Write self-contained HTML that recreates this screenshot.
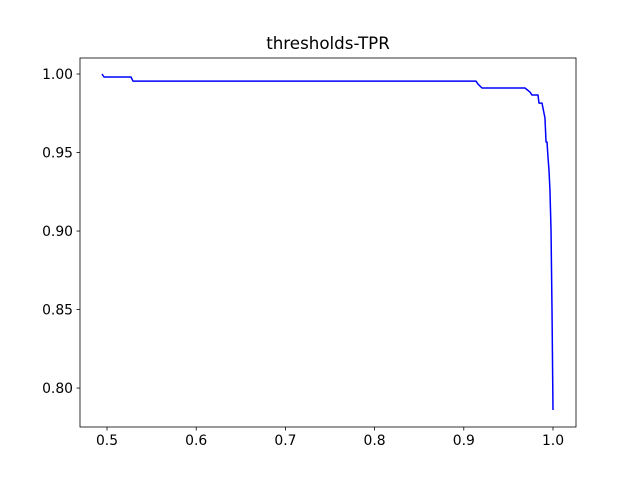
<!DOCTYPE html>
<html><head><meta charset="utf-8"><style>
body{margin:0;background:#fff}
svg text{font-family:"DejaVu Sans","Liberation Sans",sans-serif;fill:#000}
</style></head><body>
<svg id="chart" width="640" height="480" xmlns="http://www.w3.org/2000/svg">
<rect width="640" height="480" fill="#fff"/>
<text x="328" y="49" font-size="16.7" text-anchor="middle">thresholds-TPR</text>
<g id="axes"></g>
</svg>
<script>
const xs=[0.4944,0.4966,0.5269,0.5291,0.9137,0.9159,0.9204,0.9249,0.9686,0.9742,0.9765,0.9832,0.9843,0.9877,0.9888,0.9910,0.9922,0.9933,0.9944,0.9955,0.9966,0.9978,0.9989,1.0];
const ys=[1.0,0.9981,0.9981,0.9955,0.9955,0.9936,0.9911,0.9911,0.9911,0.9885,0.9866,0.9866,0.9815,0.9815,0.9783,0.9720,0.9567,0.9567,0.9471,0.9389,0.9261,0.9006,0.8497,0.786];
const xTicks=[0.5,0.6,0.7,0.8,0.9,1.0];
const yTicks=[0.80,0.85,0.90,0.95,1.00];
const L=80,R=576,T=58,B=427;
const x0=0.4697,x1=1.0258,y0=0.7752,y1=1.0102;
const X=v=>L+(v-x0)/(x1-x0)*(R-L);
const Y=v=>B-(v-y0)/(y1-y0)*(B-T);
const NS="http://www.w3.org/2000/svg";
const g=document.getElementById('axes');
function mk(t,a){const e=document.createElementNS(NS,t);for(const k in a)e.setAttribute(k,a[k]);g.appendChild(e);return e;}
const line=mk('polyline',{points:xs.map((v,i)=>X(v)+','+Y(ys[i])).join(' '),fill:'none',stroke:'#0000ff','stroke-width':1.5,'stroke-linejoin':'round'});


xTicks.forEach(v=>{const px=X(v);
const tk=mk('line',{x1:px,x2:px,y1:B,y2:B+3.5,stroke:'#000','stroke-width':0.8});


const t=mk('text',{x:px,y:B+18,'font-size':13.9,'text-anchor':'middle'});t.textContent=v.toFixed(1);

});
yTicks.forEach(v=>{const py=Y(v);
const tk=mk('line',{x1:L-3.5,x2:L,y1:py,y2:py,stroke:'#000','stroke-width':0.8});


const t=mk('text',{x:L-7,y:py+5,'font-size':13.9,'text-anchor':'end'});t.textContent=v.toFixed(2);

});
const fr=mk('rect',{x:L,y:T,width:R-L,height:B-T,fill:'none',stroke:'#000','stroke-width':0.8});


</script>
</body></html>
